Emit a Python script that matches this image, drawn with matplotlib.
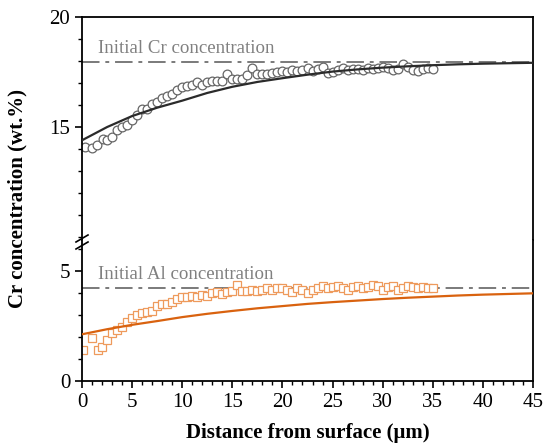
import matplotlib
matplotlib.use('Agg')
import matplotlib.pyplot as plt
from matplotlib.lines import Line2D

plt.rcParams['font.family'] = ['Liberation Serif', 'DejaVu Serif']

# ---- data ----
cr_x = [0.3, 1.0, 1.5, 2.1, 2.5, 3.0, 3.5, 4.0, 4.5, 5.0, 5.5, 6.0, 6.5, 7.0, 7.5, 8.0,
        8.5, 9.0, 9.5, 10.0, 10.5, 11.0, 11.5, 12.0, 12.5, 13.0, 13.5, 14.0, 14.5, 15.0,
        15.5, 16.0, 16.5, 17.0, 17.5, 18.0, 18.5, 19.0, 19.5,
        20.0, 20.5, 21.0, 21.5, 22.0, 22.5, 23.0, 23.5, 24.0, 24.5, 25.0, 25.5, 26.0,
        26.5, 27.0, 27.5, 28.0, 28.5, 29.0, 29.5, 30.0, 30.5, 31.0, 31.5, 32.0, 32.5,
        33.0, 33.5, 34.0, 34.5, 35.0]
cr_y = [14.1, 14.05, 14.2, 14.45, 14.4, 14.55, 14.85, 15.0, 15.1, 15.3, 15.55, 15.8,
        15.8, 16.05, 16.15, 16.3, 16.4, 16.5, 16.7, 16.8, 16.85, 16.9, 17.05, 16.9,
        17.05, 17.1, 17.1, 17.1, 17.4, 17.2, 17.2, 17.2, 17.35, 17.7, 17.4, 17.4, 17.4,
        17.45, 17.5,
        17.55, 17.5, 17.6, 17.55, 17.6, 17.7, 17.55, 17.65, 17.75, 17.45, 17.5, 17.6,
        17.7, 17.6, 17.65, 17.65, 17.6, 17.7, 17.65, 17.7, 17.75, 17.7, 17.6, 17.65,
        17.85, 17.75, 17.6, 17.55, 17.65, 17.7, 17.65]

al_x = [0.1, 1.0, 1.6, 2.0, 2.5, 3.0, 3.5, 4.0, 4.5, 5.0, 5.5, 6.0, 6.5, 7.0, 7.5, 8.0,
        8.5, 9.0, 9.5, 10.0, 10.5, 11.0, 11.5, 12.0, 12.5, 13.0, 13.5, 14.0, 14.5, 15.0,
        15.5, 16.0, 16.5, 17.0, 17.5, 18.0, 18.5, 19.0, 19.5,
        20.0, 20.5, 21.0, 21.5, 22.0, 22.5, 23.0, 23.5, 24.0, 24.5, 25.0, 25.5, 26.0,
        26.5, 27.0, 27.5, 28.0, 28.5, 29.0, 29.5, 30.0, 30.5, 31.0, 31.5, 32.0, 32.5,
        33.0, 33.5, 34.0, 34.5, 35.0]
al_y = [1.4, 1.95, 1.4, 1.55, 1.85, 2.2, 2.3, 2.45, 2.7, 2.85, 3.0, 3.1, 3.15, 3.2,
        3.4, 3.5, 3.5, 3.6, 3.7, 3.8, 3.8, 3.85, 3.8, 3.9, 3.85, 4.0, 4.05, 3.95, 4.05,
        4.1, 4.35, 4.1, 4.1, 4.15, 4.1, 4.15, 4.2, 4.15, 4.2,
        4.2, 4.15, 4.05, 4.2, 4.15, 4.0, 4.15, 4.2, 4.3, 4.2, 4.25, 4.3, 4.2, 4.15,
        4.25, 4.3, 4.2, 4.25, 4.35, 4.3, 4.15, 4.25, 4.3, 4.15, 4.2, 4.3, 4.25, 4.2,
        4.25, 4.2, 4.2]

fit_x = [0, 2.5, 5, 7.5, 10, 12.5, 15, 17.5, 20, 22.5, 25, 27.5, 30, 32.5, 35, 37.5,
         40, 42.5, 45]
cr_fit = [14.4, 15.0, 15.5, 15.88, 16.2, 16.55, 16.83, 17.05, 17.22, 17.38, 17.52,
          17.62, 17.7, 17.76, 17.81, 17.85, 17.88, 17.9, 17.92]
al_fit = [2.12, 2.35, 2.55, 2.72, 2.9, 3.05, 3.18, 3.3, 3.4, 3.5, 3.58, 3.65, 3.72,
          3.78, 3.83, 3.88, 3.92, 3.95, 3.98]

cr_initial = 17.95
al_initial = 4.22

W, H = 548, 445
fig = plt.figure(figsize=(W / 100, H / 100), dpi=100)

left, right = 82 / W, 533 / W
y_top, y_mid, y_bot = 17, 240, 381
ax_top = fig.add_axes([left, 1 - y_mid / H, right - left, (y_mid - y_top) / H])
ax_bot = fig.add_axes([left, 1 - y_bot / H, right - left, (y_bot - y_mid) / H])

gray = '#7a7a7a'
dash_dot = (0, (9, 3, 2, 3))

# Cr panel
ax_top.axhline(cr_initial, color=gray, lw=1.4, ls=dash_dot, zorder=1)
ax_top.plot(cr_x, cr_y, 'o', ms=6.3, mfc='white', mec='#666666', mew=0.9, zorder=2)
ax_top.plot(fit_x, cr_fit, '-', color='#2b2b2b', lw=1.6, zorder=3)
ax_top.text(1.6, 18.35, 'Initial Cr concentration', color='#808080', fontsize=13.6)
ax_top.set_ylim(9.87, 20)
ax_top.set_yticks([15, 20])
ax_top.set_yticks(range(10, 20), minor=True)
ax_top.spines['bottom'].set_visible(False)
ax_top.tick_params(axis='x', which='both', bottom=False, labelbottom=False)

# Al panel
ax_bot.axhline(al_initial, color=gray, lw=1.4, ls=dash_dot, zorder=1)
ax_bot.plot(al_x, al_y, 's', ms=5.6, mfc='white', mec='#ee9a5c', mew=0.9, zorder=2)
ax_bot.plot(fit_x, al_fit, '-', color='#d9620f', lw=1.6, zorder=3)
ax_bot.text(1.6, 4.65, 'Initial Al concentration', color='#808080', fontsize=13.6)
ax_bot.set_ylim(0, 6.4)
ax_bot.set_yticks([0, 5])
ax_bot.set_yticks(range(0, 7), minor=True)
ax_bot.spines['top'].set_visible(False)
ax_bot.set_xticks(range(0, 50, 5))
ax_bot.set_xticks(range(0, 46), minor=True)

for ax in (ax_top, ax_bot):
    ax.set_xlim(0, 45)
    for s in ax.spines.values():
        s.set_linewidth(1.3)
    ax.tick_params(which='major', direction='out', length=5, width=1.2, labelsize=15,
                   right=False, top=False)
    ax.tick_params(which='minor', direction='out', length=3, width=1.0,
                   right=False, top=False)

# axis break marks
for yc in (238.5, 245.5):
    fig.add_artist(Line2D([76 / W, 88 / W], [1 - (yc + 3.5) / H, 1 - (yc - 3.5) / H],
                          color='black', lw=1.2))

fig.text((left + right) / 2, 1 - 433 / H, 'Distance from surface (\u03bcm)',
         ha='center', va='center', fontsize=15, fontweight='bold')
fig.text(17 / W, 1 - (y_top + y_bot) / 2 / H, 'Cr concentration (wt.%)', rotation=90,
         ha='center', va='center', fontsize=15, fontweight='bold')

fig.savefig('out.png', dpi=100)
